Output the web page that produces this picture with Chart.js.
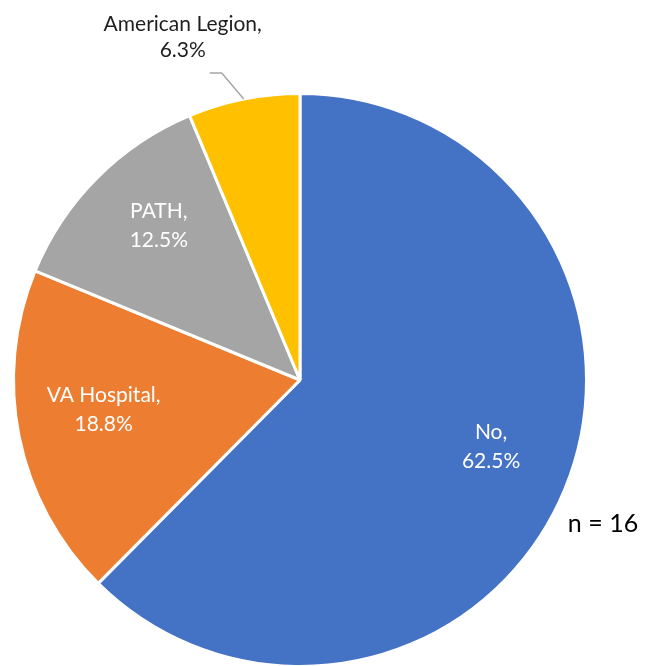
<!DOCTYPE html>
<html>
<head>
<meta charset="utf-8">
<script src="https://cdn.jsdelivr.net/npm/chart.js@4.4.1/dist/chart.umd.min.js"></script>
<style>
  html, body { margin: 0; padding: 0; background: #fff; overflow: hidden; }
  #wrap { position: relative; width: 658px; height: 680px; }
</style>
</head>
<body>
<div id="wrap"><canvas id="myChart"></canvas></div>
<script>
// data
const categories = ["No", "VA Hospital", "PATH", "American Legion"]
const percents = [62.5, 18.8, 12.5, 6.3]
const colors = ["#4472C4", "#ED7D31", "#A5A5A5", "#FFC000"]
const sampleNote = "n = 16"

const FONT = "Lato, 'Open Sans', sans-serif"

// labels inside the slices, and the outside one with its leader line
const sliceLabels = {
  id: "sliceLabels",
  afterDatasetsDraw(chart) {
    const c = chart.ctx
    const arcs = chart.getDatasetMeta(0).data
    c.save()
    c.font = "21px " + FONT
    c.textAlign = "center"
    c.textBaseline = "middle"
    arcs.forEach((arc, i) => {
      const mid = (arc.startAngle + arc.endAngle) / 2
      const line1 = categories[i] + ","
      const line2 = percents[i].toFixed(1) + "%"
      if (percents[i] < 10) {
        // outside label with leader line
        const r = arc.outerRadius
        const ex = arc.x + Math.cos(mid) * r
        const ey = arc.y + Math.sin(mid) * r
        const kx = ex - 22
        const ky = ey - 26
        c.strokeStyle = "#A6A6A6"
        c.lineWidth = 1.5
        c.beginPath()
        c.moveTo(ex, ey)
        c.lineTo(kx, ky)
        c.lineTo(kx - 12, ky)
        c.stroke()
        c.fillStyle = "#1f1f1f"
        c.fillText(line1, kx - 39, ky - 49)
        c.fillText(line2, kx - 39, ky - 23)
      } else {
        const d = arc.outerRadius * 0.71
        const x = arc.x + Math.cos(mid) * d + 3
        const y = arc.y + Math.sin(mid) * d - 11
        c.fillStyle = "#ffffff"
        c.fillText(line1, x, y - 14.5)
        c.fillText(line2, x, y + 14.5)
      }
    })
    c.font = "25px " + FONT
    c.fillStyle = "#000000"
    c.fillText(sampleNote, 603, 524)
    c.restore()
  },
}

const ctx = document.getElementById("myChart").getContext("2d")
const myChart = new Chart(ctx, {
  type: "pie",
  data: {
    labels: categories,
    datasets: [
      {
        data: percents,
        backgroundColor: colors,
        borderColor: "#ffffff",
        borderWidth: 3,
      },
    ],
  },
  options: {
    responsive: true,
    maintainAspectRatio: false,
    animation: false,
    layout: {
      padding: { left: 12, right: 70, top: 92, bottom: 12 },
    },
    plugins: {
      legend: { display: false },
      tooltip: { enabled: false },
    },
  },
  plugins: [sliceLabels],
})
</script>
</body>
</html>
